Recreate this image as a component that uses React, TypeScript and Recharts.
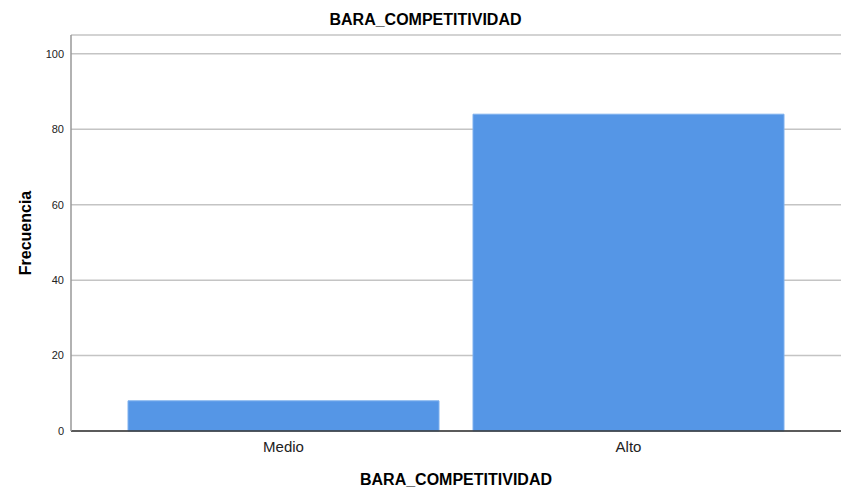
import { BarChart, Bar, XAxis, YAxis, CartesianGrid } from "recharts";

const categories = ["Medio", "Alto"];
const frecuencia = [8, 84];
const yTicks = [0, 20, 40, 60, 80, 100];

const data = categories.map((c, i) => ({ categoria: c, frecuencia: frecuencia[i] }));

const font = "Arial, 'Liberation Sans', sans-serif";

export default function App() {
  return (
    <div style={{ position: "absolute", left: 0, top: 0, width: 851, height: 501, background: "#fff", fontFamily: font }}>
      <div
        style={{
          position: "absolute",
          top: 11,
          width: 851,
          textAlign: "center",
          fontWeight: "bold",
          fontSize: 16,
          color: "#000",
        }}
      >
        BARA_COMPETITIVIDAD
      </div>
      <BarChart
        width={851}
        height={501}
        data={data}
        margin={{ top: 35, right: 10, left: 0, bottom: 40 }}
        barCategoryGap={17}
      >
        <CartesianGrid vertical={false} stroke="#c4c4c4" strokeWidth={1.5} />
        <XAxis
          dataKey="categoria"
          height={30}
          tickLine={false}
          axisLine={{ stroke: "#333", strokeWidth: 1.5 }}
          padding={{ left: 40, right: 40 }}
          tick={{ fontSize: 15, fill: "#222", fontFamily: font }}
          tickMargin={4}
          label={{
            content: ({ viewBox }: any) => (
              <text
                x={viewBox.x + viewBox.width / 2}
                y={485}
                textAnchor="middle"
                fontWeight="bold"
                fontSize={16}
                fontFamily={font}
                fill="#000"
              >
                BARA_COMPETITIVIDAD
              </text>
            ),
          }}
        />
        <YAxis
          width={71}
          domain={[0, 105]}
          ticks={yTicks}
          tickLine={false}
          axisLine={{ stroke: "#999", strokeWidth: 1.5 }}
          tick={{ fontSize: 11, fill: "#222", fontFamily: font }}
          tickMargin={1}
          label={{
            content: ({ viewBox }: any) => (
              <text
                x={31}
                y={viewBox.y + viewBox.height / 2}
                textAnchor="middle"
                fontWeight="bold"
                fontSize={16}
                fontFamily={font}
                fill="#000"
                transform={`rotate(-90, 31, ${viewBox.y + viewBox.height / 2})`}
              >
                Frecuencia
              </text>
            ),
          }}
        />
        <Bar
          dataKey="frecuencia"
          fill="#5596e6"
          stroke="#7eb0ee"
          strokeWidth={1}
          isAnimationActive={false}
        />
      </BarChart>
    </div>
  );
}
